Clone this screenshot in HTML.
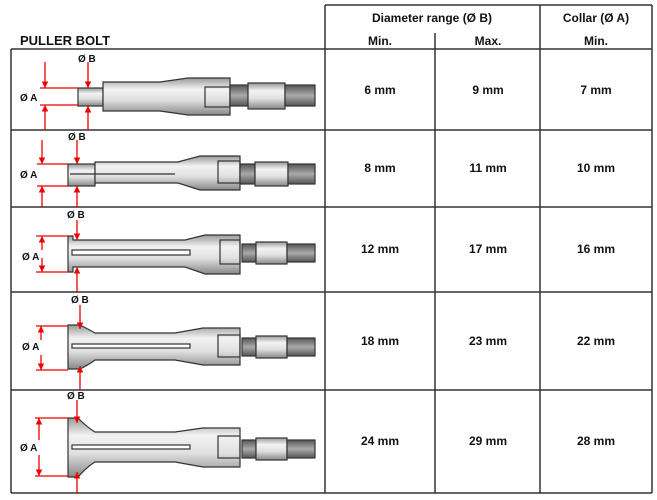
<!DOCTYPE html>
<html><head><meta charset="utf-8"><style>
body{margin:0;background:#fff;width:657px;height:500px;overflow:hidden}
svg{display:block}
text{font-family:"Liberation Sans",Arial,sans-serif;font-weight:bold;fill:#111}
</style></head><body>
<svg width="657" height="500" viewBox="0 0 657 500" xmlns="http://www.w3.org/2000/svg">
<defs>
<linearGradient id="g" x1="0" y1="0" x2="0" y2="1">
<stop offset="0" stop-color="#999"/><stop offset="0.3" stop-color="#f2f2f2"/><stop offset="0.6" stop-color="#e0e0e0"/><stop offset="1" stop-color="#888"/></linearGradient>
<linearGradient id="t" x1="0" y1="0" x2="0" y2="1">
<stop offset="0" stop-color="#555"/><stop offset="0.5" stop-color="#aaa"/><stop offset="1" stop-color="#555"/></linearGradient>
<marker id="ar" viewBox="0 0 10 10" refX="10" refY="5" markerWidth="5" markerHeight="5" orient="auto"><path d="M0,0L10,5L0,10z" fill="#e00"/></marker>
</defs>
<g stroke="#333" stroke-width="1.5" fill="none">
<line x1="325" y1="5" x2="652" y2="5"/>
<line x1="11" y1="49" x2="652" y2="49"/>
<line x1="11" y1="130" x2="652" y2="130"/>
<line x1="11" y1="207" x2="652" y2="207"/>
<line x1="11" y1="292" x2="652" y2="292"/>
<line x1="11" y1="390" x2="652" y2="390"/>
<line x1="11" y1="493" x2="652" y2="493"/>
<line x1="11" y1="49" x2="11" y2="493"/>
<line x1="325" y1="5" x2="325" y2="493"/>
<line x1="435" y1="33" x2="435" y2="493"/>
<line x1="540" y1="5" x2="540" y2="493"/>
<line x1="652" y1="5" x2="652" y2="493"/>
</g>
<text x="20" y="45" font-size="13">PULLER BOLT</text>
<g font-size="12" text-anchor="middle">
<text x="432" y="22">Diameter range (Ø B)</text>
<text x="596" y="22">Collar (Ø A)</text>
<text x="380" y="45">Min.</text><text x="488" y="45">Max.</text><text x="596" y="45">Min.</text>
<text x="380" y="94">6 mm</text><text x="488" y="94">9 mm</text><text x="596" y="94">7 mm</text>
<text x="380" y="172">8 mm</text><text x="488" y="172">11 mm</text><text x="596" y="172">10 mm</text>
<text x="380" y="253">12 mm</text><text x="488" y="253">17 mm</text><text x="596" y="253">16 mm</text>
<text x="380" y="345">18 mm</text><text x="488" y="345">23 mm</text><text x="596" y="345">22 mm</text>
<text x="380" y="445">24 mm</text><text x="488" y="445">29 mm</text><text x="596" y="445">28 mm</text>
</g>
<g stroke="#333" stroke-width="1.2">
<rect x="78" y="88" width="25" height="18" fill="url(#g)"/>
<path d="M103,82H160L188,78H230V115H188L160,111H103Z" fill="url(#g)"/>
<rect x="205" y="87" width="25" height="20" fill="none"/>
<rect x="230" y="85" width="18" height="21" fill="url(#t)"/>
<rect x="248" y="83" width="37" height="26" fill="url(#g)"/>
<rect x="285" y="85" width="30" height="21" fill="url(#t)"/>
<rect x="68" y="164" width="27" height="22" fill="url(#g)"/>
<path d="M95,162H178L200,156H240V190H200L178,183H95Z" fill="url(#g)"/>
<line x1="70" y1="174" x2="175" y2="174"/>
<rect x="218" y="161" width="22" height="22" fill="none"/>
<rect x="240" y="164" width="15" height="20" fill="url(#t)"/>
<rect x="255" y="162" width="33" height="24" fill="url(#g)"/>
<rect x="288" y="164" width="27" height="20" fill="url(#t)"/>
<path d="M68,236H73V240H185L205,235H240V274H205L185,267H73V272H68Z" fill="url(#g)"/>
<rect x="72" y="250" width="118" height="5" fill="#fff"/>
<rect x="220" y="240" width="20" height="24" fill="none"/>
<rect x="242" y="244" width="14" height="18" fill="url(#t)"/>
<rect x="256" y="242" width="31" height="22" fill="url(#g)"/>
<rect x="287" y="244" width="28" height="18" fill="url(#t)"/>
<path d="M68,325H80Q90,330 95,333H175L203,328H240V365H203L175,360H95Q90,364 80,369H68Z" fill="url(#g)"/>
<rect x="72" y="344" width="118" height="4" fill="#fff"/>
<rect x="218" y="335" width="22" height="22" fill="none"/>
<rect x="242" y="338" width="14" height="18" fill="url(#t)"/>
<rect x="256" y="336" width="31" height="22" fill="url(#g)"/>
<rect x="287" y="338" width="28" height="18" fill="url(#t)"/>
<path d="M68,418H78Q88,428 95,432H175L203,428H240V467H203L175,462H95Q88,466 78,477H68Z" fill="url(#g)"/>
<rect x="72" y="445" width="118" height="4" fill="#fff"/>
<rect x="218" y="436" width="22" height="22" fill="none"/>
<rect x="242" y="440" width="14" height="18" fill="url(#t)"/>
<rect x="256" y="438" width="31" height="22" fill="url(#g)"/>
<rect x="287" y="440" width="28" height="18" fill="url(#t)"/>
</g>
<g stroke="#e00" stroke-width="1.3" fill="none">
<line x1="40" y1="88" x2="78" y2="88"/><line x1="40" y1="105" x2="78" y2="105"/>
<line x1="45" y1="62" x2="45" y2="88" marker-end="url(#ar)"/><line x1="45" y1="130" x2="45" y2="105" marker-end="url(#ar)"/>
<line x1="88" y1="62" x2="88" y2="88" marker-end="url(#ar)"/><line x1="88" y1="130" x2="88" y2="106" marker-end="url(#ar)"/>
<line x1="37" y1="164" x2="68" y2="164"/><line x1="37" y1="186" x2="68" y2="186"/>
<line x1="42" y1="140" x2="42" y2="164" marker-end="url(#ar)"/><line x1="42" y1="207" x2="42" y2="186" marker-end="url(#ar)"/>
<line x1="77" y1="140" x2="77" y2="164" marker-end="url(#ar)"/><line x1="77" y1="207" x2="77" y2="186" marker-end="url(#ar)"/>
<line x1="36" y1="236" x2="68" y2="236"/><line x1="36" y1="272" x2="68" y2="272"/>
<line x1="42" y1="250" x2="42" y2="236" marker-end="url(#ar)"/><line x1="42" y1="258" x2="42" y2="272" marker-end="url(#ar)"/>
<line x1="77" y1="220" x2="77" y2="240" marker-end="url(#ar)"/><line x1="77" y1="292" x2="77" y2="267" marker-end="url(#ar)"/>
<line x1="36" y1="326" x2="68" y2="326"/><line x1="36" y1="370" x2="68" y2="370"/>
<line x1="41" y1="340" x2="41" y2="326" marker-end="url(#ar)"/><line x1="41" y1="355" x2="41" y2="370" marker-end="url(#ar)"/>
<line x1="80" y1="305" x2="80" y2="329" marker-end="url(#ar)"/><line x1="80" y1="390" x2="80" y2="366" marker-end="url(#ar)"/>
<line x1="35" y1="418" x2="68" y2="418"/><line x1="35" y1="476" x2="68" y2="476"/>
<line x1="39" y1="440" x2="39" y2="418" marker-end="url(#ar)"/><line x1="39" y1="455" x2="39" y2="476" marker-end="url(#ar)"/>
<line x1="77" y1="400" x2="77" y2="423" marker-end="url(#ar)"/><line x1="77" y1="493" x2="77" y2="472" marker-end="url(#ar)"/>
</g>
<g font-size="10">
<text x="20" y="101">Ø A</text><text x="78" y="62">Ø B</text>
<text x="20" y="178">Ø A</text><text x="68" y="140">Ø B</text>
<text x="22" y="260">Ø A</text><text x="67" y="218">Ø B</text>
<text x="22" y="350">Ø A</text><text x="71" y="303">Ø B</text>
<text x="20" y="451">Ø A</text><text x="67" y="399">Ø B</text>
</g>
</svg>
</body></html>
